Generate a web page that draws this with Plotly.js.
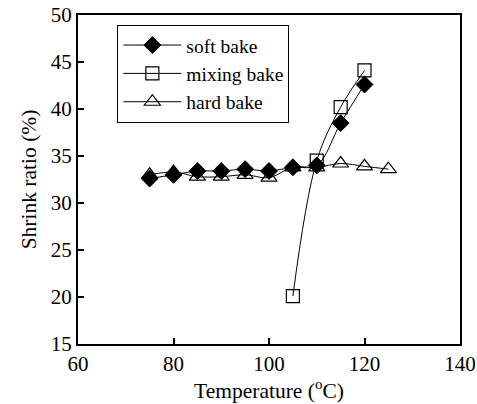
<!DOCTYPE html>
<html>
<head>
<meta charset="utf-8">
<script src="https://cdn.plot.ly/plotly-3.0.1.min.js"></script>
<style>
  html, body { margin: 0; padding: 0; background: #fff; }
  #chart { width: 477px; height: 404px; }
</style>
</head>
<body>
<div id="chart"></div>
<script>
// Shrink ratio versus bake temperature for three baking modes
const softTemp = [75, 80, 85, 90, 95, 100, 105, 110, 115, 120];
const softShrink = [32.6, 33.0, 33.4, 33.4, 33.6, 33.4, 33.8, 34.0, 38.5, 42.6];

const mixTemp = [105, 110, 115, 120];
const mixShrink = [20.1, 34.5, 40.2, 44.1];

const hardTemp = [75, 80, 85, 90, 95, 100, 105, 110, 115, 120, 125];
const hardShrink = [33.0, 33.3, 32.8, 32.8, 33.0, 32.7, 33.8, 33.8, 34.2, 33.9, 33.6];

const seriesNames = ['soft bake', 'mixing bake', 'hard bake'];
const xTicks = [60, 80, 100, 120, 140];
const yTicks = [15, 20, 25, 30, 35, 40, 45, 50];

const serif = 'Liberation Serif, Times New Roman, serif';
const lineStyle = { color: '#000', width: 1, shape: 'spline', smoothing: 1 };

const traces = [
  {
    x: softTemp, y: softShrink, name: seriesNames[0], mode: 'lines+markers',
    line: lineStyle,
    marker: { symbol: 'diamond', size: 13, color: '#000', line: { color: '#000', width: 1 } }
  },
  {
    x: mixTemp, y: mixShrink, name: seriesNames[1], mode: 'lines+markers',
    line: lineStyle,
    marker: { symbol: 'square-open', size: 13, color: '#000', line: { color: '#000', width: 1.2 } }
  },
  {
    x: hardTemp, y: hardShrink, name: seriesNames[2], mode: 'lines+markers',
    line: lineStyle,
    marker: { symbol: 'triangle-up-open', size: 14, color: '#000', line: { color: '#000', width: 1.2 } }
  }
];

const axisCommon = {
  showgrid: false, zeroline: false,
  showline: true, linecolor: '#000', linewidth: 2, mirror: true,
  ticks: 'inside', ticklen: 6, tickwidth: 2, tickcolor: '#000',
  tickfont: { family: serif, size: 21, color: '#000' }
};

const layout = {
  width: 477, height: 404,
  margin: { l: 78, r: 17, t: 15, b: 60 },
  paper_bgcolor: '#fff', plot_bgcolor: '#fff',
  font: { family: serif, color: '#000' },
  xaxis: Object.assign({}, axisCommon, {
    range: [60, 140], tickvals: xTicks, ticktext: xTicks.map(String),
    title: { text: 'Temperature (<sup>o</sup>C)', font: { family: serif, size: 21.5, color: '#000' }, standoff: 1 }
  }),
  yaxis: Object.assign({}, axisCommon, {
    range: [15, 50], tickvals: yTicks, ticktext: yTicks.map(String),
    title: { text: 'Shrink ratio (%)', font: { family: serif, size: 21.5, color: '#000' }, standoff: 8 }
  }),
  legend: {
    x: 0.103, y: 0.97, xanchor: 'left', yanchor: 'top',
    bordercolor: '#000', borderwidth: 1, bgcolor: '#fff',
    font: { family: serif, size: 19.5, color: '#000' },
    tracegroupgap: 0, itemwidth: 58
  },
  showlegend: true
};

Plotly.newPlot('chart', traces, layout, { displayModeBar: false, staticPlot: true });
</script>
</body>
</html>
